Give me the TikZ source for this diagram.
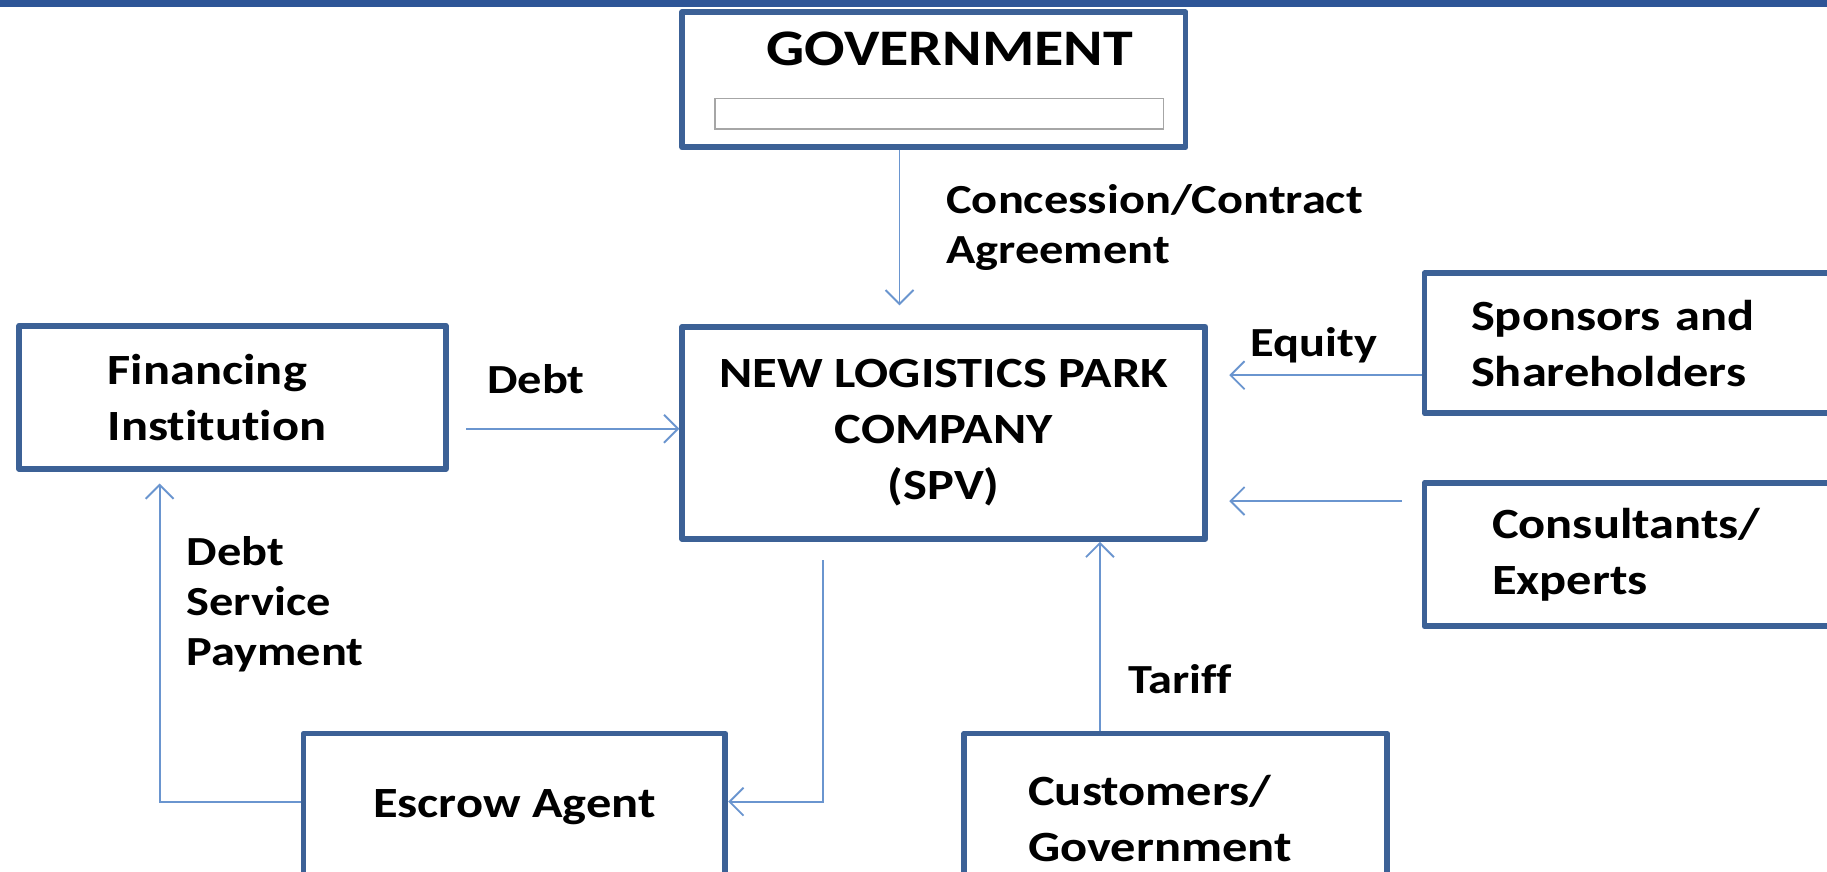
\documentclass[tikz,border=0pt]{standalone}
\usepackage{fontspec}
\setmainfont{Carlito}[FakeStretch=1.17, Ligatures=NoCommon]
\usetikzlibrary{arrows.meta}

\definecolor{boxblue}{HTML}{3C6196}
\definecolor{flowblue}{HTML}{6A95CF}
\definecolor{bandblue}{HTML}{2E5597}
\definecolor{maskgray}{HTML}{A6A6A6}

\newcommand\pboxfont{\bfseries\fontsize{37}{48}\selectfont}
\newcommand\plblfont{\bfseries\fontsize{35.5}{43}\selectfont}
\newcommand\pgovfont{\bfseries\fontsize{44}{50}\selectfont}

\tikzset{
  pbox/.style={draw=boxblue, line width=5pt, line join=round, fill=white,
    inner sep=0pt, align=left, anchor=north west, font=\pboxfont},
  flow/.style={draw=flowblue, line width=1.6pt,
    -{Straight Barb[length=12pt, width=24pt, line width=1.6pt]}},
  lbl/.style={anchor=north west, align=left, inner sep=0pt, font=\plblfont}
}

\begin{document}
\begin{tikzpicture}[x=1pt, y=-1pt]
    \useasboundingbox (0,0) rectangle (1568,748);

    % boxes
    \node[pbox, minimum width=432pt, minimum height=116pt] (gov) at (583,8) {};
    \node[font=\pgovfont, inner sep=0pt] (govname) at (815,42) {GOVERNMENT};
    \node[draw=maskgray, line width=1.2pt, fill=white, inner sep=0pt,
      minimum width=385pt, minimum height=26pt, anchor=north west] (govmask) at (613,84) {};

    \node[pbox, minimum width=449pt, minimum height=182pt, align=center] (spv)
      at (583,278) {NEW LOGISTICS PARK\\COMPANY\\(SPV)};
    \node[pbox, minimum height=123pt, text width=214pt, inner xsep=76pt] (fin)
      at (14,277) {Financing\\Institution};
    \node[pbox, minimum height=120pt, text width=320pt, inner xsep=40pt] (spons)
      at (1220,232) {Sponsors and\\Shareholders};
    \node[pbox, minimum height=123pt, text width=284pt, inner xsep=58pt] (cons)
      at (1220,412) {Consultants/\\Experts};
    \node[pbox, minimum height=146pt, text width=253pt, inner xsep=55pt] (cust)
      at (825,627) {Customers/\\Government};
    \node[pbox, minimum width=362pt, minimum height=126pt, align=center] (esc)
      at (258,627) {Escrow Agent};

    % flows
    \draw[flow, shorten >=16pt] (gov.south -| 772,0) -- (spv.north -| 772,0);
    \draw[flow, shorten <=15pt] (fin.east |- 0,368) -- (spv.west |- 0,368);
    \draw[flow, shorten >=18pt] (spons.west |- 0,322) -- (spv.east |- 0,322);
    \draw[flow, shorten <=17pt, shorten >=18pt] (cons.west |- 0,430) -- (spv.east |- 0,430);
    \draw[flow, shorten <=16pt] (spv.south -| 706,0) |- (esc.east |- 0,688);
    \draw[flow, shorten >=10pt] (esc.west |- 0,688) -| (fin.south -| 137,0);
    \draw[flow] (cust.north -| 944,0) -- (spv.south -| 944,0);

    % labels
    \node[lbl] (concl) at (812,158) {Concession/Contract\\Agreement};
    \node[lbl] (debtl) at (418,313) {Debt};
    \node[lbl] (eql) at (1073,281) {Equity};
    \node[lbl] (dspl) at (160,460) {Debt\\Service\\Payment};
    \node[lbl] (tarl) at (968,570) {Tariff};

    \fill[bandblue] (0,0) rectangle (1568,6);
\end{tikzpicture}
\end{document}
